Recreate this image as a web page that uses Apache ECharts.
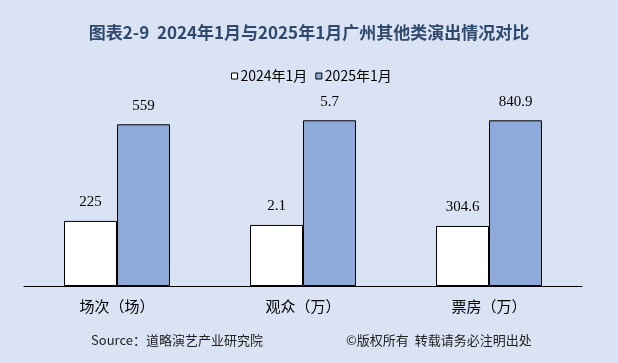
<!DOCTYPE html>
<html>
<head>
<meta charset="utf-8">
<style>html,body{margin:0;padding:0;background:#dae3f3;}#c{width:618px;height:363px;}</style>
<script src="https://cdn.jsdelivr.net/npm/echarts@6/dist/echarts.min.js"></script>
</head>
<body>
<div id="c"></div>
<script>
var categories = ['场次（场）', '观众（万）', '票房（万）'];
var seriesNames = ['2024年1月', '2025年1月'];
var values2024 = [225, 2.1, 304.6];
var values2025 = [559, 5.7, 840.9];
var axisMax = [608.4, 6.054, 893.2];

var chart = echarts.init(document.getElementById('c'));
var grids = [], xAxes = [], yAxes = [], series = [];
var cjk = '"Noto Sans CJK SC", sans-serif';
for (var i = 0; i < categories.length; i++) {
  grids.push({left: 24 + 186 * i, width: 186, top: 110, height: 176});
  xAxes.push({
    type: 'category', gridIndex: i, data: [categories[i]],
    axisLine: {lineStyle: {color: '#000', width: 1}},
    axisTick: {inside: true, length: 5, lineStyle: {color: '#000'}},
    axisLabel: {margin: 13, fontSize: 15, color: '#000', fontFamily: cjk}
  });
  yAxes.push({type: 'value', gridIndex: i, min: 0, max: axisMax[i], show: false, splitLine: {show: false}});
  var lbl = {show: true, position: 'top', distance: 11, fontSize: 15, color: '#000', fontFamily: '"Liberation Serif", serif'};
  series.push({
    name: seriesNames[0], type: 'bar', xAxisIndex: i, yAxisIndex: i, barWidth: 53, barGap: '0%',
    data: [values2024[i]], itemStyle: {color: '#ffffff', borderColor: '#000', borderWidth: 1}, label: lbl
  });
  series.push({
    name: seriesNames[1], type: 'bar', xAxisIndex: i, yAxisIndex: i, barWidth: 53, barGap: '0%',
    data: [values2025[i]], itemStyle: {color: '#8eaadb', borderColor: '#000', borderWidth: 1}, label: lbl
  });
}

chart.setOption({
  backgroundColor: '#dae3f3',
  animation: false,
  title: {
    text: '图表2-9  2024年1月与2025年1月广州其他类演出情况对比',
    left: 'center', top: 19,
    textStyle: {fontSize: 17, fontWeight: 'bold', color: '#2f4a6e', fontFamily: cjk}
  },
  legend: {
    data: seriesNames, left: 226, top: 64, icon: 'rect', itemWidth: 6, itemHeight: 6, itemGap: 8,
    itemStyle: {borderColor: '#000', borderWidth: 1},
    textStyle: {fontSize: 14, color: '#000', fontFamily: cjk, padding: [0, 0, 0, -2]}
  },
  grid: grids, xAxis: xAxes, yAxis: yAxes, series: series,
  graphic: [
    {type: 'text', left: 91, top: 334, style: {text: 'Source：道略演艺产业研究院', fontSize: 13, fill: '#222', fontFamily: cjk}},
    {type: 'text', left: 346, top: 334, style: {text: '©版权所有  转载请务必注明出处', fontSize: 13, fill: '#222', fontFamily: cjk}}
  ]
});
</script>
</body>
</html>
